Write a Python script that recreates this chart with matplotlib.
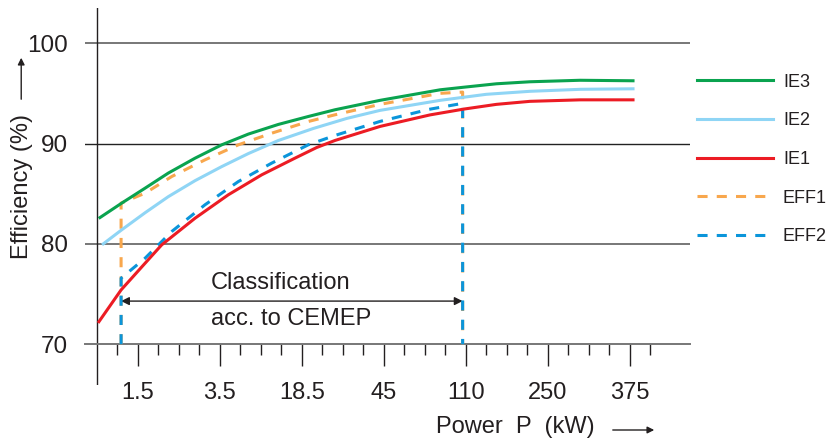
import matplotlib
matplotlib.use("Agg")
import matplotlib.pyplot as plt
from matplotlib.patches import FancyArrowPatch

plt.rcParams['font.family'] = ['Liberation Sans', 'DejaVu Sans']

# x axis is an index scale: one step per tick mark
tick_pos = [2, 6, 10, 14, 18, 22, 26]
tick_labels = ['1.5', '3.5', '18.5', '45', '110', '250', '375']
minor_pos = [1, 3, 4, 5, 7, 8, 9, 11, 12, 13, 15, 16, 17, 19, 20, 21, 23, 24, 25, 27]

ie3_x = [0.16, 1.22, 2.36, 3.49, 4.80, 6.10, 7.40, 8.86, 10.32, 11.62, 13.82, 16.75, 17.87, 19.5, 21.13, 23.58, 26.16]
ie3_y = [82.62, 84.06, 85.55, 87.05, 88.54, 89.87, 90.94, 91.9, 92.69, 93.36, 94.3, 95.35, 95.6, 95.95, 96.15, 96.3, 96.25]

ie2_x = [0.32, 1.22, 2.36, 3.49, 4.80, 6.10, 7.40, 8.86, 10.57, 12.2, 13.82, 16.75, 19.0, 21.13, 23.6, 26.16]
ie2_y = [80.0, 81.4, 83.1, 84.7, 86.3, 87.7, 89.0, 90.3, 91.5, 92.5, 93.3, 94.3, 94.9, 95.2, 95.4, 95.45]

ie1_x = [0.11, 1.19, 2.36, 3.17, 4.80, 6.42, 8.05, 9.67, 10.73, 11.62, 13.82, 16.26, 17.91, 19.5, 21.13, 23.58, 26.16]
ie1_y = [72.25, 75.41, 78.07, 79.9, 82.56, 84.89, 86.88, 88.54, 89.6, 90.3, 91.7, 92.85, 93.43, 93.9, 94.2, 94.35, 94.35]

eff1_x = [1.19, 1.19, 2.36, 3.66, 5.28, 6.91, 8.54, 10.32, 11.62, 13.82, 16.75, 17.85, 17.85]
eff1_y = [70.0, 84.06, 85.05, 86.71, 88.37, 89.87, 91.03, 92.19, 92.86, 93.9, 95.0, 95.12, 70.0]

eff2_x = [1.19, 1.19, 2.36, 3.66, 5.28, 6.91, 8.54, 10.32, 11.62, 13.82, 16.2, 17.85, 17.85]
eff2_y = [70.0, 76.58, 78.57, 81.23, 83.89, 86.21, 88.05, 89.87, 90.8, 92.2, 93.4, 94.0, 70.0]

cemep_from, cemep_to, cemep_y = 1.19, 17.85, 74.3

fig = plt.figure(figsize=(8.32, 4.41), dpi=100)
ax = fig.add_axes([85 / 832, 56 / 441, 605 / 832, 377 / 441])
ax.set_xlim(-0.57, 28.94)
ax.set_ylim(65.94, 103.5)

txt = '#231f20'
for v, c, w in [(80, '#777777', 1.4), (90, '#222222', 1.0), (100, '#777777', 1.4)]:
    ax.axhline(v, color=c, lw=w, zorder=1)

for s in ['left', 'top', 'right']:
    ax.spines[s].set_visible(False)
ax.spines['bottom'].set_position(('data', 70))
ax.spines['bottom'].set_color('#777777')
ax.spines['bottom'].set_linewidth(1.4)
ax.axvline(0, color=txt, lw=1.0, zorder=1)

ax.set_yticks([70, 80, 90, 100])
ax.tick_params(axis='y', length=0, pad=12, labelsize=17.5, labelcolor=txt)
ax.set_xticks(tick_pos)
ax.set_xticklabels(tick_labels)
ax.set_xticks(minor_pos, minor=True)
ax.tick_params(axis='x', which='major', length=16, width=1, color=txt, pad=11, labelsize=17, labelcolor=txt)
ax.tick_params(axis='x', which='minor', length=8, width=1, color=txt)

lw = 2.2
dash = (0, (3.3, 3.0))
ax.plot(eff1_x, eff1_y, color='#f8a74d', lw=lw, ls=dash, label='EFF1', zorder=3)
ax.plot(eff2_x, eff2_y, color='#0b95da', lw=lw, ls=dash, label='EFF2', zorder=4)
ax.plot(ie3_x, ie3_y, color='#0aa34f', lw=lw, label='IE3', zorder=5)
ax.plot(ie2_x, ie2_y, color='#8fd5f5', lw=lw, label='IE2', zorder=5)
ax.plot(ie1_x, ie1_y, color='#ec1c24', lw=lw, label='IE1', zorder=5)

ax.annotate('', xy=(cemep_from, cemep_y), xytext=(cemep_to, cemep_y),
            arrowprops=dict(arrowstyle='<|-|>', color=txt, lw=1.0, mutation_scale=12,
                            shrinkA=0, shrinkB=0))
ax.text(5.56, 76.1, 'Classification', fontsize=17, color=txt, va='center', ha='left')
ax.text(5.56, 72.5, 'acc. to CEMEP', fontsize=17, color=txt, va='center', ha='left')

h, l = ax.get_legend_handles_labels()
order = ['IE3', 'IE2', 'IE1', 'EFF1', 'EFF2']
hs = [h[l.index(k)] for k in order]
fig.legend(hs, order, loc='upper left', bbox_to_anchor=(0.838, 0.8333), frameon=False,
           fontsize=13, handlelength=4.2, handletextpad=0.55, labelspacing=1.2,
           borderpad=0, borderaxespad=0, labelcolor=txt)

fig.text(0.027, 0.576, 'Efficiency (%)', rotation=90, ha='center', va='center', fontsize=17, color=txt)
fig.add_artist(FancyArrowPatch((0.0255, 1 - 102 / 441), (0.0255, 1 - 55 / 441),
               transform=fig.transFigure, arrowstyle='-|>', mutation_scale=10, color=txt, lw=1))
fig.text(515 / 832, 1 - 427 / 441, 'Power  P  (kW)', ha='center', va='center', fontsize=17, color=txt)
fig.add_artist(FancyArrowPatch((610 / 832, 1 - 430 / 441), (657 / 832, 1 - 430 / 441),
               transform=fig.transFigure, arrowstyle='-|>', mutation_scale=10, color=txt, lw=1))

fig.savefig('out.png', dpi=100)
